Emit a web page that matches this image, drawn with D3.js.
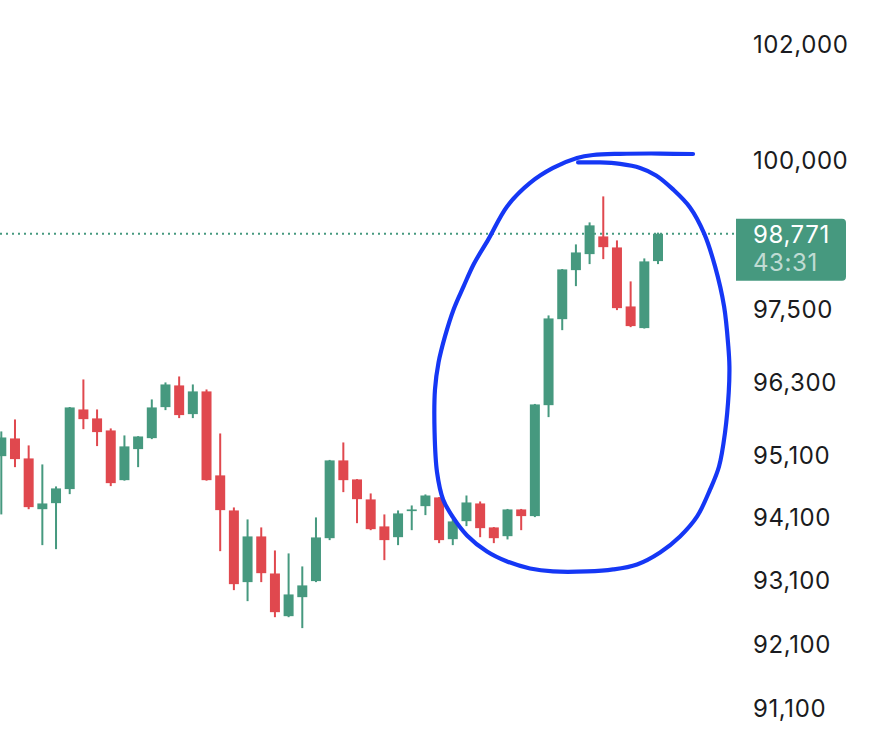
<!DOCTYPE html>
<html>
<head>
<meta charset="utf-8">
<script src="https://cdn.jsdelivr.net/npm/d3@7"></script>
<style>
  html, body { margin: 0; padding: 0; background: #ffffff; }
  svg { display: block; }
</style>
</head>
<body>
<svg id="chart" width="874" height="742"></svg>
<script>
// ---- data ----
const candleIndex = d3.range(49);
const opens  = [95101,95388,95064,94246,94343,94569,95860,95714,95518,94713,95215,95393,95898,96253,95784,96155,94790,94226,93083,93810,93220,92545,92845,93099,93782,95032,94725,94403,93970,93798,94215,94295,94435,93766,94054,94338,93954,93814,94242,94135,95930,97345,98161,98429,98726,98541,97556,97197,98312];
const highs  = [95502,95697,95275,94967,94612,95900,96351,95860,95551,95437,95425,96024,96302,96400,96269,96187,95469,94274,94082,93954,93586,93539,93332,94114,95040,95323,94730,94499,94162,94226,94306,94483,94440,94090,94466,94370,93960,94250,94250,95950,97407,98180,98592,98962,99401,98659,97973,98357,98790];
const lows   = [94162,94923,94246,93671,93607,94488,95539,95264,94617,94705,94923,95377,95849,95719,95719,94705,93575,92956,92782,93083,92529,92529,92357,93083,93751,94520,94022,93910,93432,93671,93910,94151,93703,93671,93975,93798,93703,93762,93910,94119,95735,97163,97894,98262,98345,97495,97213,97190,98262];
const closes = [95404,95053,94279,94338,94580,95893,95702,95491,94665,95259,95420,95893,96269,95768,96155,94713,94231,93051,93810,93225,92608,92888,93031,93794,95032,94713,94407,93926,93751,94178,94242,94466,93751,94050,94354,93942,93782,94242,94135,95942,97357,98173,98457,98912,98546,97528,97230,98307,98771];
const tickValues = [102000,100000,97500,96300,95100,94100,93100,92100,91100];
const lastPrice = 98771;
const countdown = "43:31";
// hand-drawn annotation, as [candle index, price]
const annotation = [
  [42.16,99977],[43.76,99977],[45.23,99952],[46.69,99884],[47.86,99757],[49.10,99520],
  [50.34,99215],[51.37,98777],[52.17,98223],[52.83,97557],[53.14,96894],[53.22,96565],
  [53.17,96138],[52.90,95486],[52.46,94934],[51.81,94564],[50.86,94130],[49.61,93810],
  [48.15,93555],[46.47,93364],[44.72,93284],[42.81,93252],[40.33,93252],[38.65,93300],
  [36.97,93411],[35.50,93570],[34.04,93826],[33.02,94114],[32.29,94403],[31.85,94838],
  [31.67,95486],[31.70,96187],[31.96,96631],[32.43,97060],[33.06,97507],[33.79,97889],
  [34.52,98256],[35.60,98676],[36.97,99232],[38.65,99630],[40.33,99884],
  [42.08,100053],[43.25,100104],[45.23,100124],[48.15,100129],[50.56,100121]
];

// ---- styles ----
const UP = "#46997f", DOWN = "#e0484e", TEXT = "#1a1b20", INK = "#1537f5";
const FONT = "Inter, 'Open Sans', sans-serif";

const svg = d3.select("#chart");
const x = d3.scaleLinear().domain([0, 48]).range([1.3, 658]);
const y = d3.scaleLog().domain([91100, 102000]).range([708.6, 44.8]);

const data = candleIndex.map(i => ({i, o: opens[i], h: highs[i], l: lows[i], c: closes[i]}));
const bodyW = 10, wickW = 2;

const g = svg.append("g");
const candles = g.selectAll("g.c").data(data).join("g")
  .attr("fill", d => d.c >= d.o ? UP : DOWN);
candles.append("rect")
  .attr("x", d => x(d.i) - wickW / 2)
  .attr("width", wickW)
  .attr("y", d => y(d.h))
  .attr("height", d => Math.max(1, y(d.l) - y(d.h)));
candles.append("rect")
  .attr("x", d => x(d.i) - bodyW / 2)
  .attr("width", bodyW)
  .attr("y", d => y(Math.max(d.o, d.c)))
  .attr("height", d => Math.max(1.5, Math.abs(y(d.o) - y(d.c))));

// last price dotted line
const yl = y(lastPrice);
svg.append("line")
  .attr("x1", 0).attr("x2", 736)
  .attr("y1", yl).attr("y2", yl)
  .attr("stroke", UP).attr("stroke-width", 2)
  .attr("stroke-dasharray", "2,4");

// price axis
const axis = d3.axisRight(y).tickValues(tickValues).tickSize(0).tickPadding(0)
  .tickFormat(d3.format(","));
const ag = svg.append("g").attr("transform", "translate(753,0)").call(axis);
ag.select(".domain").remove();
ag.selectAll("text").attr("fill", TEXT).style("font-family", FONT).style("font-size", "24px")
  .style("letter-spacing", "0.6px");

// last price label
const bx = 736, bw = 110, bt = yl - 15, bh = 62, r = 4;
svg.append("path")
  .attr("d", `M${bx},${bt} H${bx + bw - r} Q${bx + bw},${bt} ${bx + bw},${bt + r} V${bt + bh - r} Q${bx + bw},${bt + bh} ${bx + bw - r},${bt + bh} H${bx} Z`)
  .attr("fill", UP);
svg.append("text").attr("x", 753).attr("y", yl + 9)
  .attr("fill", "#ffffff").style("font-family", FONT).style("font-size", "24px")
  .style("letter-spacing", "0.6px")
  .text(d3.format(",")(lastPrice));
svg.append("text").attr("x", 753).attr("y", yl + 37)
  .attr("fill", "#ffffff").attr("fill-opacity", 0.68).style("font-family", FONT).style("font-size", "24px")
  .style("letter-spacing", "0.6px")
  .text(countdown);

// hand-drawn circle annotation
const line = d3.line().x(d => x(d[0])).y(d => y(d[1])).curve(d3.curveCatmullRom.alpha(0.5));
svg.append("path").datum(annotation)
  .attr("d", line)
  .attr("fill", "none").attr("stroke", INK).attr("stroke-width", 4.2)
  .attr("stroke-linecap", "round").attr("stroke-linejoin", "round");
</script>
</body>
</html>
